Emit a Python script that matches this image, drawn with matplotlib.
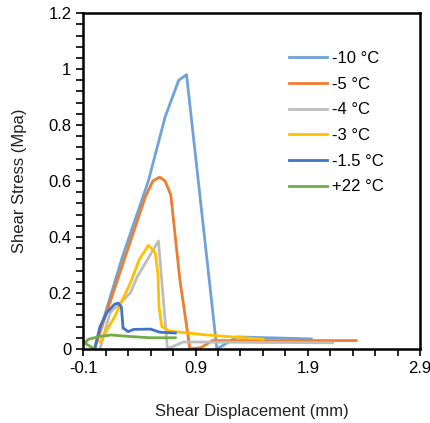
import numpy as np
import matplotlib.pyplot as plt
from matplotlib.ticker import FixedLocator

plt.rcParams['font.family'] = ['Liberation Sans', 'DejaVu Sans']

## Data
labels = ["-10 \u00b0C", "-5 \u00b0C", "-4 \u00b0C", "-3 \u00b0C", "-1.5 \u00b0C", "+22 \u00b0C"]
colors = ["#6FA3D8", "#ED7D31", "#BDBDBD", "#FFC000", "#4472C4", "#70AD47"]

x_m10 = [0.0, 0.25, 0.48, 0.63, 0.75, 0.82, 1.09, 1.27, 1.93]
y_m10 = [0.0, 0.33, 0.60, 0.83, 0.96, 0.98, 0.0, 0.043, 0.036]

x_m5 = [0.0, 0.25, 0.45, 0.52, 0.58, 0.63, 0.68, 0.76, 0.85, 0.95, 1.05, 2.33]
y_m5 = [0.0, 0.30, 0.54, 0.60, 0.614, 0.60, 0.55, 0.25, 0.0, 0.005, 0.03, 0.03]

x_m4 = [0.05, 0.14, 0.32, 0.38, 0.57, 0.65, 0.79, 2.12]
y_m4 = [0.0, 0.13, 0.20, 0.257, 0.386, 0.0, 0.025, 0.022]

x_m3 = [0.05, 0.18, 0.32, 0.40, 0.48, 0.54, 0.565, 0.575, 0.60, 0.67, 1.0, 1.5]
y_m3 = [0.025, 0.115, 0.236, 0.32, 0.37, 0.346, 0.27, 0.15, 0.08, 0.064, 0.05, 0.035]

x_m15 = [0.006, 0.05, 0.11, 0.18, 0.21, 0.24, 0.255, 0.30, 0.35, 0.50, 0.58, 0.72]
y_m15 = [0.007, 0.08, 0.13, 0.16, 0.164, 0.15, 0.075, 0.062, 0.07, 0.071, 0.06, 0.057]

x_p22 = [0.0, -0.09, -0.05, 0.05, 0.15, 0.30, 0.50, 0.72]
y_p22 = [0.0, 0.022, 0.035, 0.045, 0.05, 0.045, 0.04, 0.04]

xs = [x_m10, x_m5, x_m4, x_m3, x_m15, x_p22]
ys = [y_m10, y_m5, y_m4, y_m3, y_m15, y_p22]

xticks = [-0.1, 0.9, 1.9, 2.9]
xtick_labels = ["-0.1", "0.9", "1.9", "2.9"]
yticks = [0, 0.2, 0.4, 0.6, 0.8, 1.0, 1.2]
ytick_labels = ["0", "0.2", "0.4", "0.6", "0.8", "1", "1.2"]

fig = plt.figure(figsize=(4.31, 4.23), dpi=100)
ax = fig.add_axes([0.193, 0.175, 0.782, 0.794])

for x, y, c, lab in zip(xs, ys, colors, labels):
    ax.plot(x, y, color=c, lw=2.0, label=lab, solid_joinstyle='round')

ax.set_xlim(-0.1, 2.9)
ax.set_ylim(0, 1.2)
ax.set_xticks(xticks, xtick_labels)
ax.set_yticks(yticks, ytick_labels)
ax.xaxis.set_minor_locator(FixedLocator(np.arange(-0.1, 2.95, 0.2)))
ax.yaxis.set_minor_locator(FixedLocator(np.arange(0, 1.21, 0.04)))
ax.tick_params(which='both', direction='out', length=5, width=1.2, labelsize=12, color='black')

for s in ax.spines.values():
    s.set_linewidth(1.8)

ax.set_xlabel("Shear Displacement (mm)", fontsize=12, labelpad=20, color='#222222')
ax.set_ylabel("Shear Stress (Mpa)", fontsize=12, labelpad=15, color='#222222')

ax.legend(loc='upper left', bbox_to_anchor=(0.611, 0.887), frameon=False, fontsize=12,
          handlelength=2.3, handletextpad=0.25, labelspacing=0.64,
          borderpad=0, borderaxespad=0)

fig.savefig("out.png", dpi=100)
